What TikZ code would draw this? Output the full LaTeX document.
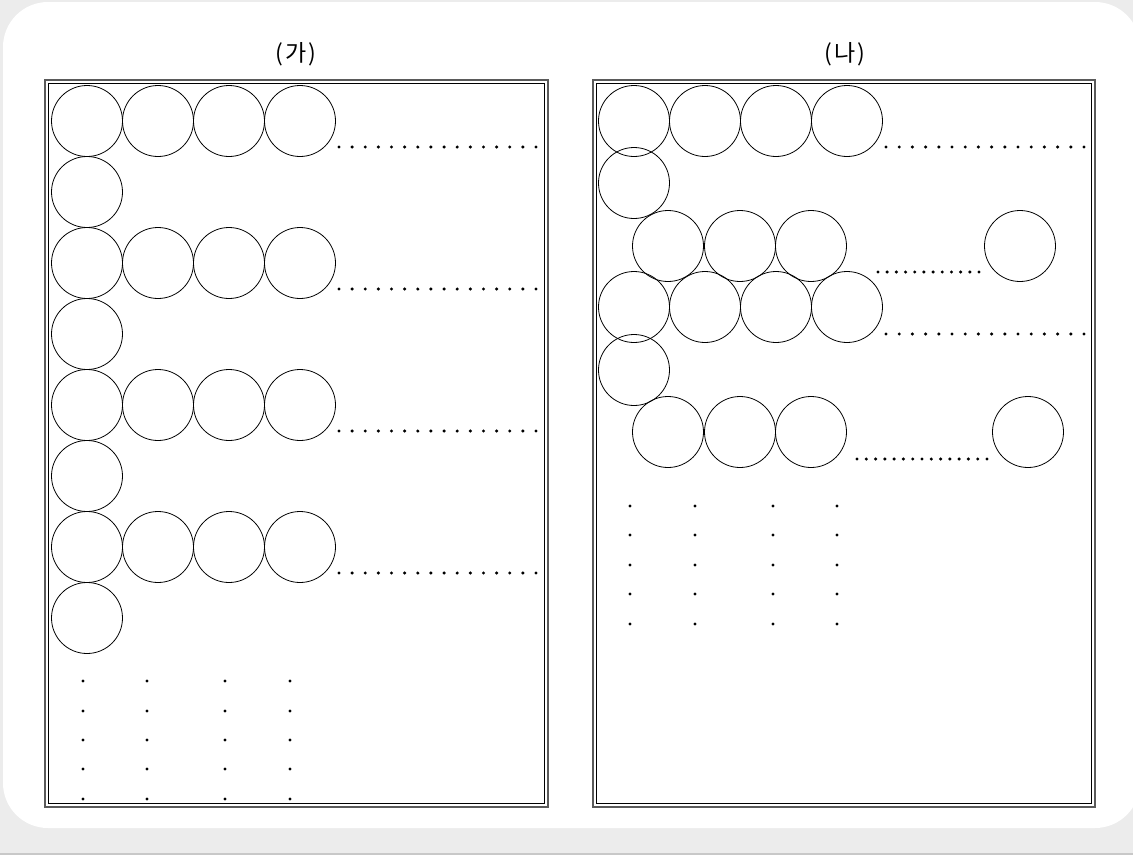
\documentclass[tikz,border=0pt]{standalone}
\usepackage{fontspec}
\newfontfamily\kr{Noto Sans CJK KR}
\definecolor{bggray}{HTML}{ECECEC}
\definecolor{edgegray}{HTML}{C8C8C8}
\definecolor{frameout}{HTML}{5A5A5A}
\tikzset{
  ball/.style={circle,draw=black,line width=0.8pt,minimum size=71pt,inner sep=0pt},
  dotmark/.style={fill=black,draw=none},
  title/.style={font=\kr\fontsize{23pt}{26pt}\selectfont,inner sep=0pt},
  outerframe/.style={draw=frameout,line width=1.6pt},
  innerframe/.style={draw=black,line width=0.8pt}
}
\newcommand{\dotrow}[4]{% x0, x1, y, n
  \pgfmathsetmacro{\dstep}{(#2-#1)/(#4-1)}
  \foreach \k in {0,...,\numexpr#4-1\relax}{
    \fill[dotmark] ({#1+\k*\dstep},#3) circle (1.7pt);
  }
}
\begin{document}
\begin{tikzpicture}[x=1pt,y=-1pt]
\useasboundingbox (0,0) rectangle (1133,855);
\fill[bggray] (0,0) rectangle (1133,855);
\draw[edgegray,line width=1.2pt] (0,854) -- (1133,854);
\fill[white,rounded corners=45pt] (3,2) rectangle (1140,828);

% titles
\node[title] (tA) at (296,54) {(\kern2pt 가\kern2pt)};
\node[title] (tB) at (845,54) {(\kern2pt 나\kern2pt)};

% frames
\draw[outerframe] (45,80) rectangle (548,807);
\draw[innerframe] (48.5,83.5) rectangle (544.5,803.5);
\draw[outerframe] (593,80) rectangle (1095,807);
\draw[innerframe] (596.5,83.5) rectangle (1091.5,803.5);

% left panel
\foreach \r/\y in {1/121,2/263,3/405,4/547}{
  \foreach \c/\x in {1/87,2/158,3/229,4/300}{
    \node[ball] (L\r\c) at (\x,\y) {};
  }
  \node[ball] (LS\r) at (87,\y+71) {};
  \dotrow{339}{536}{\y+26}{16}
}
\foreach \x in {83,147,225,290}{
  \foreach \y in {681,711,740,769,799}{
    \fill[dotmark] (\x,\y) circle (1.7pt);
  }
}

% right panel
\foreach \c/\x in {1/634,2/705,3/776,4/847}{
  \node[ball] (RA\c) at (\x,121) {};
  \node[ball] (RC\c) at (\x,307) {};
}
\node[ball] (RS1) at (634,183) {};
\node[ball] (RS2) at (634,370) {};
\foreach \c/\x in {1/668,2/740,3/811}{
  \node[ball] (RB\c) at (\x,246) {};
  \node[ball] (RD\c) at (\x,432) {};
}
\node[ball] (RBn) at (1020,246) {};
\node[ball] (RDn) at (1028,432) {};
\dotrow{886}{1084}{147}{16}
\dotrow{878}{979}{272}{12}
\dotrow{886}{1084}{334}{16}
\dotrow{857}{987}{459}{15}
\foreach \x in {630,695,773,837}{
  \foreach \y in {506,535,565,594,624}{
    \fill[dotmark] (\x,\y) circle (1.7pt);
  }
}
\end{tikzpicture}
\end{document}
